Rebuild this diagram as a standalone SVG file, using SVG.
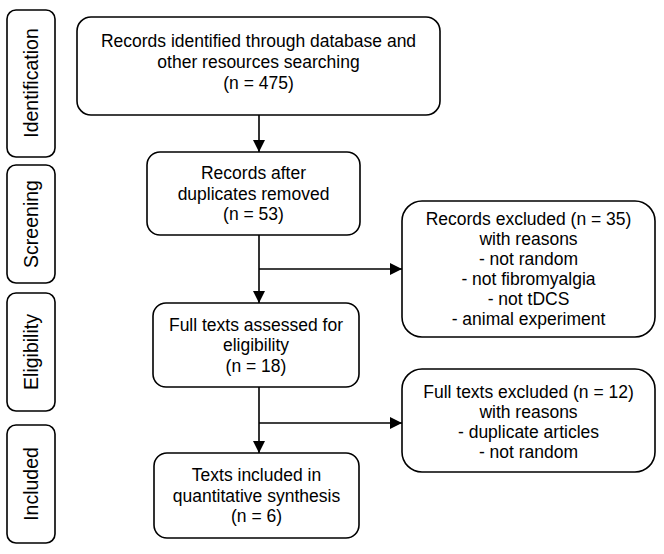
<svg xmlns="http://www.w3.org/2000/svg" width="664" height="554" viewBox="0 0 664 554">
<defs>
<style>
rect{fill:#fff;stroke:#000;stroke-width:1.6}
text{font-family:"Liberation Sans",Arial,sans-serif;font-size:17.5px;fill:#000;text-anchor:middle}
.side{font-size:19.5px}
.conn line{stroke:#000;stroke-width:1.6}
</style>
<marker id="ah" markerUnits="userSpaceOnUse" markerWidth="13" markerHeight="12" refX="12" refY="6" orient="auto">
<path d="M0,0 L12,6 L0,12 z" fill="#000"/>
</marker>
</defs>
<rect x="0" y="0" width="664" height="554" style="fill:#fff;stroke:none"/>

<g id="stage-identification"><rect x="7" y="10" width="48" height="147" rx="9"/><text class="side" transform="translate(38,83) rotate(-90)">Identification</text></g>
<g id="stage-screening"><rect x="7" y="165" width="48" height="118" rx="9"/><text class="side" transform="translate(38,224) rotate(-90)">Screening</text></g>
<g id="stage-eligibility"><rect x="7" y="293" width="48" height="118" rx="9"/><text class="side" transform="translate(38,352) rotate(-90)">Eligibility</text></g>
<g id="stage-included"><rect x="7" y="425" width="48" height="118" rx="9"/><text class="side" transform="translate(38,484) rotate(-90)">Included</text></g>

<g id="identified"><rect x="77" y="17" width="363" height="98" rx="14"/>
<text x="258.5" y="47">Records identified through database and</text>
<text x="258.5" y="68">other resources searching</text>
<text x="258.5" y="89">(n = 475)</text></g>

<g id="after-duplicates"><rect x="147" y="152" width="213" height="83" rx="13"/>
<text x="253.5" y="179">Records after</text>
<text x="253.5" y="199.5">duplicates removed</text>
<text x="253.5" y="220">(n = 53)</text></g>

<g id="records-excluded"><rect x="402" y="201" width="253" height="136" rx="20"/>
<text x="528.5" y="225">Records excluded (n = 35)</text>
<text x="528.5" y="245">with reasons</text>
<text x="528.5" y="265">- not random</text>
<text x="528.5" y="285">- not fibromyalgia</text>
<text x="528.5" y="305">- not tDCS</text>
<text x="528.5" y="325">- animal experiment</text></g>

<g id="full-texts"><rect x="153" y="303" width="206" height="84" rx="13"/>
<text x="256" y="330.5">Full texts assessed for</text>
<text x="256" y="351">eligibility</text>
<text x="256" y="371.5">(n = 18)</text></g>

<g id="full-excluded"><rect x="402" y="369" width="253" height="103" rx="20"/>
<text x="528.5" y="398">Full texts excluded (n = 12)</text>
<text x="528.5" y="418">with reasons</text>
<text x="528.5" y="438">- duplicate articles</text>
<text x="528.5" y="458">- not random</text></g>

<g id="included"><rect x="154" y="453" width="205" height="85" rx="13"/>
<text x="256.5" y="481">Texts included in</text>
<text x="256.5" y="501.5">quantitative synthesis</text>
<text x="256.5" y="522">(n = 6)</text></g>

<g id="connectors" class="conn">
<line x1="259" y1="115" x2="259" y2="152" marker-end="url(#ah)"/>
<line x1="259" y1="235" x2="259" y2="303" marker-end="url(#ah)"/>
<line x1="259" y1="269" x2="402" y2="269" marker-end="url(#ah)"/>
<line x1="259" y1="387" x2="259" y2="453" marker-end="url(#ah)"/>
<line x1="259" y1="423" x2="402" y2="423" marker-end="url(#ah)"/>
</g>
</svg>
